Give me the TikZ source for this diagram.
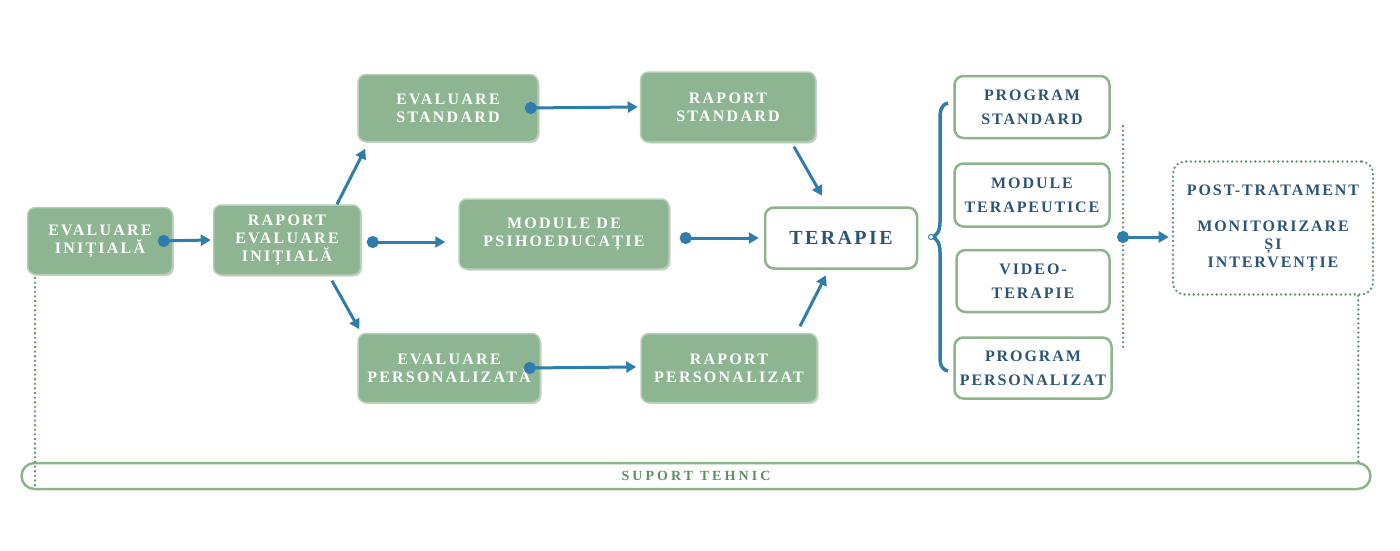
\documentclass[tikz,border=0pt]{standalone}
\usepackage{fontspec}
\setmainfont{Liberation Serif}
\newfontfamily\gfont[LetterSpace=14]{Liberation Serif}
\newfontfamily\bfont[LetterSpace=12]{Liberation Serif}
\newfontfamily\sfont[LetterSpace=22]{Liberation Serif}
\usetikzlibrary{arrows.meta,shadows}
\definecolor{boxgreen}{HTML}{8DB592}
\definecolor{glowgreen}{HTML}{B5D0B5}
\definecolor{bordgreen}{HTML}{8CB58C}
\definecolor{conblue}{HTML}{2F7DAE}
\definecolor{txtblue}{HTML}{2B5577}
\definecolor{dotgreen}{HTML}{5F9469}
\definecolor{suptxt}{HTML}{5E9065}
\begin{document}
\begin{tikzpicture}[x=1pt,y=-1pt,
  gbox/.style={rectangle,rounded corners=8pt,fill=boxgreen,draw=glowgreen,line width=1.5pt,
    text=white,font=\gfont\bfseries\fontsize{16}{18}\selectfont,align=center,inner sep=0pt,
    drop shadow={shadow xshift=1.5pt,shadow yshift=-1.5pt,opacity=0.18,fill=black}},
  wbox/.style={rectangle,rounded corners=9pt,fill=white,draw=bordgreen,line width=2.5pt,
    text=txtblue,font=\bfont\bfseries\fontsize{16}{24}\selectfont,align=center,inner sep=0pt,
    drop shadow={shadow xshift=1pt,shadow yshift=-1pt,opacity=0.12,fill=black}},
  conn/.style={draw=conblue,line width=3pt,{Circle[length=12pt]}-{Triangle[length=10pt,width=11pt]}},
  arr/.style={draw=conblue,line width=3pt,-{Triangle[length=10pt,width=11pt]}},
  dotline/.style={draw=dotgreen,line width=2.6pt,dash pattern=on 0pt off 4.6pt,line cap=round}]
\useasboundingbox (0,0) rectangle (1400,550);

% bottom bar
\node[rectangle,rounded corners=13pt,fill=white,draw=bordgreen,line width=2.5pt,
  minimum width=1349pt,minimum height=26pt,inner sep=0pt,
  text=suptxt,font=\sfont\bfseries\fontsize{14}{16}\selectfont] (S) at (696,476) {SUPORT TEHNIC};

% left column
\node[gbox,minimum width=145pt,minimum height=67pt] (A) at (100,241) {EVALUARE\\INIȚIALĂ};
\node[gbox,minimum width=147pt,minimum height=70pt] (B) at (287,240) {RAPORT\\EVALUARE\\INIȚIALĂ};
\node[gbox,minimum width=180pt,minimum height=67pt] (C) at (448,108) {EVALUARE\\STANDARD};
\node[gbox,minimum width=175pt,minimum height=70pt] (D) at (728,107) {RAPORT\\STANDARD};
\node[gbox,minimum width=210pt,minimum height=70pt] (E) at (564,234) {MODULE DE\\PSIHOEDUCAȚIE};
\node[gbox,minimum width=182pt,minimum height=69pt] (G) at (449,368) {EVALUARE\\PERSONALIZATĂ};
\node[gbox,minimum width=176pt,minimum height=69pt] (H) at (729,368) {RAPORT\\PERSONALIZAT};
\node[wbox,minimum width=152pt,minimum height=61pt,font=\bfont\bfseries\fontsize{20}{24}\selectfont] (F) at (841,238) {TERAPIE};

% right boxes
\node[wbox,minimum width=155pt,minimum height=62pt] (R1) at (1032,107) {PROGRAM\\STANDARD};
\node[wbox,minimum width=155pt,minimum height=63pt] (R2) at (1032,195) {MODULE\\TERAPEUTICE};
\node[wbox,minimum width=153pt,minimum height=62pt] (R3) at (1033,281) {VIDEO-\\TERAPIE};
\node[wbox,minimum width=157pt,minimum height=61pt] (R4) at (1033,368) {PROGRAM\\PERSONALIZAT};

% post-treatment
\node[rectangle,rounded corners=12pt,dotline,minimum width=200pt,minimum height=133pt,
  inner sep=0pt,align=center,text=txtblue,font=\bfont\bfseries\fontsize{16}{18}\selectfont] (P) at (1273,228)
  {POST-TRATAMENT\\[18pt]MONITORIZARE\\ȘI\\INTERVENȚIE};

% connectors
\draw[conn] ([xshift=-15.5pt]A.east) -- ([xshift=-2pt]B.west);
\draw[conn] ([xshift=5.5pt,yshift=-2pt]B.east) -- ([xshift=-13pt,yshift=-8pt]E.west);
\draw[arr] ([xshift=50pt]B.north) -- ([xshift=8pt,yshift=-6.5pt]C.south west);
\draw[arr] ([xshift=45pt,yshift=-5pt]B.south) -- ([xshift=2pt,yshift=3.5pt]G.north west);
\draw[conn] ([xshift=-14pt]C.east) -- ([xshift=-2pt]D.west);
\draw[conn] ([xshift=10pt,yshift=-4pt]E.east) -- ([xshift=-5pt]F.west);
\draw[conn] ([xshift=-17pt]G.east) -- ([xshift=-4pt,yshift=1pt]H.west);
\draw[arr] ([xshift=66pt,yshift=-4pt]D.south) -- ([xshift=-19pt,yshift=10.5pt]F.north);
\draw[arr] ([xshift=71pt,yshift=6.5pt]H.north) -- ([xshift=-15pt,yshift=-5.5pt]F.south);

% brace
\draw[conblue,line width=3.5pt] (948,103) .. controls (941,105) and (940,110) .. (940,120) -- (940,222)
  .. controls (940,232) and (936,236) .. (932,237) .. controls (936,238) and (940,242) .. (940,252)
  -- (940,355) .. controls (940,365) and (941,369) .. (948,371);
\node[circle,draw=conblue,line width=1pt,fill=white,inner sep=0pt,minimum size=5pt] (bt) at (931,237) {};

% dotted lines
\coordinate (vt) at (1123,126);
\coordinate (vb) at (1123,348);
\coordinate (vm) at (1123,237);
\draw[dotline] (vt) -- (vb);
\draw[conn] ([xshift=-6pt]vm) -- ([xshift=-3pt]P.west |- vm);
\draw[dotline] ([xshift=-16pt]P.south east) -- ([xshift=-16pt]P.south east |- S.north);
\coordinate (lt) at (35,278);
\coordinate (lb) at (35,485);
\draw[dotline] (lt) -- (lb);
\end{tikzpicture}
\end{document}
